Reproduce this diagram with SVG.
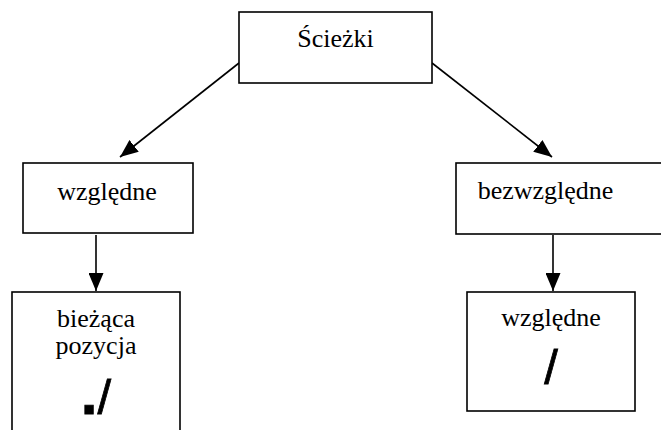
<svg xmlns="http://www.w3.org/2000/svg" width="661" height="430" viewBox="0 0 661 430">
<style>
.box{fill:#fff;stroke:#000;stroke-width:1.6}
.t{font-family:"Liberation Serif","Times New Roman",serif;font-size:26px;fill:#000;text-anchor:middle}
.s{font-family:"Liberation Sans",Arial,sans-serif;font-size:49px;fill:#000;stroke:#000;stroke-width:0.8;text-anchor:middle}
.d{font-weight:bold;font-size:60px}
.c{stroke:#000;stroke-width:1.6;fill:none;marker-end:url(#ah)}
</style>
<defs>
<marker id="ah" markerUnits="userSpaceOnUse" markerWidth="18" markerHeight="15" refX="18" refY="7.5" orient="auto">
<path d="M0,0 L18,7.5 L0,15 Z" fill="#000"/>
</marker>
</defs>
<rect width="661" height="430" fill="#fff"/>
<g id="connectors">
<line class="c" x1="239" y1="63" x2="120" y2="157"/>
<line class="c" x1="432" y1="63" x2="552" y2="157"/>
<line class="c" x1="96" y1="235" x2="96" y2="291"/>
<line class="c" x1="553" y1="235" x2="553" y2="291"/>
</g>
<g id="n-sciezki">
<rect class="box" x="239" y="12" width="193" height="71"/>
<text class="t" x="335.5" y="47">Ścieżki</text>
</g>
<g id="n-wzgledne">
<rect class="box" x="23" y="163" width="170" height="70"/>
<text class="t" x="107" y="200">względne</text>
</g>
<g id="n-bezwzgledne">
<rect class="box" x="456" y="163" width="210" height="71"/>
<text class="t" x="545.5" y="199">bezwzględne</text>
</g>
<g id="n-biezaca">
<rect class="box" x="12" y="292" width="168" height="150"/>
<text class="t" x="96" y="327">bieżąca</text>
<text class="t" x="96" y="354">pozycja</text>
<text class="s" x="96" y="414"><tspan class="d">.</tspan>/</text>
</g>
<g id="n-wzgledne2">
<rect class="box" x="467" y="292" width="168" height="119"/>
<text class="t" x="551" y="326">względne</text>
<text class="s" x="551" y="384">/</text>
</g>
</svg>
